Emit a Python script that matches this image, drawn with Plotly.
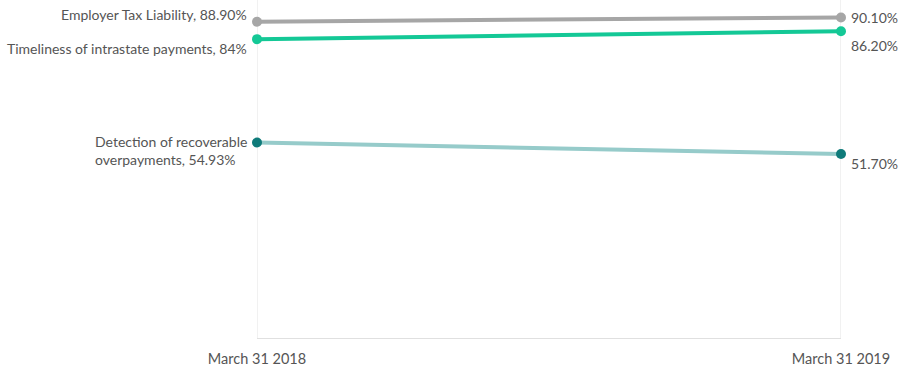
import plotly.graph_objects as go

dates = ["March 31 2018", "March 31 2019"]
series_names = ["Employer Tax Liability", "Timeliness of intrastate payments", "Detection of recoverable overpayments"]
employer = [88.90, 90.10]
timeliness = [84.0, 86.20]
detection = [54.93, 51.70]
left_labels = ["Employer Tax Liability, 88.90%", "Timeliness of intrastate payments, 84%",
               "Detection of recoverable<br>overpayments, 54.93%"]
right_labels = ["90.10%", "86.20%", "51.70%"]

xs = [0, 1]
series = [employer, timeliness, detection]
line_colors = ["#a6a6a6", "#14c896", "#96cbca"]
marker_colors = ["#a6a6a6", "#14c896", "#0f7b7a"]
left_yshift = [7, -9, -8]
right_yshift = [0, -14, -9]
FONT = "Lato"
TXT = "#555555"

fig = go.Figure()
for name, vals, lc, mc in zip(series_names, series, line_colors, marker_colors):
    fig.add_trace(go.Scatter(x=xs, y=vals, mode="lines+markers", name=name, cliponaxis=False,
                             line=dict(color=lc, width=4),
                             marker=dict(color=mc, size=10)))

annotations = []
for vals, lab, ys in zip(series, left_labels, left_yshift):
    annotations.append(dict(x=xs[0], y=vals[0], xref="x", yref="y", text=lab, showarrow=False,
                            xanchor="right", yanchor="middle", align="left", xshift=-8, yshift=ys,
                            font=dict(family=FONT, size=14, color=TXT)))
for vals, lab, ys in zip(series, right_labels, right_yshift):
    annotations.append(dict(x=xs[1], y=vals[1], xref="x", yref="y", text=lab, showarrow=False,
                            xanchor="left", yanchor="middle", align="left", xshift=8, yshift=ys,
                            font=dict(family=FONT, size=14, color=TXT)))

shapes = [dict(type="line", xref="x", yref="paper", x0=xv, x1=xv, y0=0, y1=1,
               line=dict(color="#e3e3e3", width=1), layer="below") for xv in xs]

fig.update_layout(
    width=913, height=367,
    margin=dict(l=257, r=72, t=0, b=29, autoexpand=False),
    paper_bgcolor="white", plot_bgcolor="white",
    showlegend=False,
    annotations=annotations,
    shapes=shapes,
    xaxis=dict(range=[0, 1], tickvals=xs, ticktext=dates, showgrid=False, automargin=False,
               showline=True, linecolor="#e0e0e0", zeroline=False, ticklabelstandoff=8,
               tickfont=dict(family=FONT, size=14.5, color=TXT), ticks="", ticklen=0),
    yaxis=dict(range=[0, 95], showgrid=False, showticklabels=False, zeroline=False,
               showline=False, automargin=False),
)
fig.write_html("out.html", config={"displayModeBar": False},
               post_script="document.body.style.margin='0';document.body.style.overflow='hidden';")
